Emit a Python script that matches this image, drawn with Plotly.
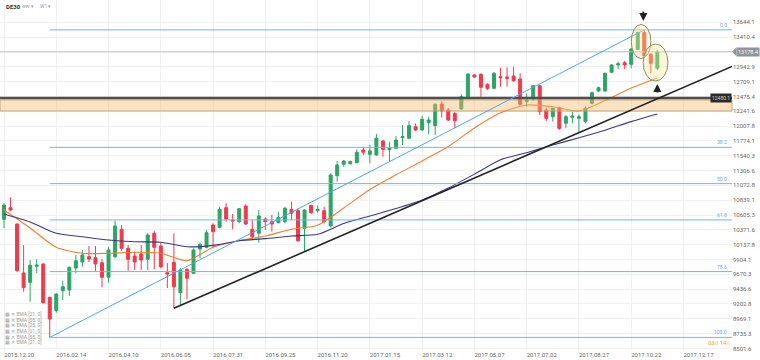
import plotly.graph_objects as go
import pandas as pd

# ---------------- data ----------------
symbol = "DE30"
first_week = "2015-12-20"          # weekly candles, one per Sunday-dated week

opens = [10537, 10720, 10463, 9691, 9544, 9796, 9833, 9307, 9096, 9411,
         9422, 9769, 9864, 9948, 9932, 9853, 9623, 9948, 10380, 10080,
         9959, 9990, 9907, 10317, 10116, 9695, 9859, 9380, 9749, 9686,
         10069, 10096, 10448, 10411, 10720, 10526, 10500, 10747, 10380, 10317,
         10542, 10500, 10484, 10500, 10695, 10673, 10395, 10758, 10673, 10673,
         10432, 11225, 11405, 11414, 11430, 11630, 11563, 11551, 11772, 11635,
         11657, 11824, 11815, 11998, 11946, 12061, 12014, 12356, 12261, 12209,
         12277, 12461, 12813, 12824, 12666, 12603, 12786, 12781, 12797, 12750,
         12392, 12435, 12644, 12261, 12155, 12297, 12051, 12146, 12130, 12077,
         12367, 12561, 12561, 12856, 12971, 13007, 12982, 13218, 13486, 13140,
         12919]
highs = [10790, 10884, 10474, 10132, 9896, 9907, 9844, 9317, 9370, 9569,
         9790, 9974, 10053, 10116, 10116, 9907, 10105, 10515, 10448, 10132,
         10027, 10132, 10317, 10358, 10168, 9848, 10317, 9765, 9765, 10080,
         10168, 10369, 10474, 10736, 10790, 10621, 10711, 10774, 10526, 10684,
         10569, 10605, 10657, 10736, 10815, 10711, 10695, 10763, 10758, 10736,
         11263, 11457, 11473, 11462, 11641, 11682, 11709, 11883, 11788, 11761,
         11851, 12025, 12088, 12051, 12171, 12155, 12367, 12403, 12288, 12225,
         12509, 12840, 12824, 12840, 12682, 12856, 12928, 12934, 12944, 12840,
         12524, 12655, 12655, 12288, 12297, 12313, 12182, 12234, 12193, 12313,
         12550, 12628, 12849, 12982, 13023, 13034, 13234, 13496, 13525, 13155,
         13207]
lows = [10395, 10673, 9711, 9396, 9238, 9686, 9213, 8675, 9064, 9265,
        9328, 9686, 9790, 9864, 9722, 9465, 9538, 9922, 10042, 9727,
        9738, 9738, 9738, 9749, 9765, 9454, 9134, 9186, 9276, 9675,
        9922, 10080, 10080, 10395, 10500, 10380, 10474, 10448, 10211, 10168,
        10369, 10342, 10474, 10474, 10526, 10184, 10027, 10621, 10641, 10474,
        10411, 11130, 11367, 11405, 11421, 11551, 11421, 11540, 11525, 11446,
        11641, 11709, 11804, 11930, 11930, 11878, 11867, 12140, 12088, 11972,
        12261, 12446, 12770, 12471, 12576, 12587, 12628, 12628, 12707, 12329,
        12313, 12403, 12182, 12088, 12077, 11946, 11972, 12051, 11894, 12051,
        12351, 12550, 12550, 12840, 12908, 12908, 12919, 13207, 13102, 12840,
        12892]
closes = [10763, 10684, 9727, 9459, 9812, 9815, 9222, 8965, 9359, 9474,
          9780, 9885, 9974, 9911, 9833, 9623, 10053, 10432, 10080, 9907,
          9864, 9896, 10290, 10096, 9790, 9675, 9474, 9738, 9607, 10053,
          10143, 10326, 10342, 10695, 10542, 10511, 10705, 10463, 10263, 10590,
          10500, 10463, 10569, 10711, 10632, 10200, 10684, 10641, 10695, 10500,
          11236, 11394, 11457, 11446, 11594, 11594, 11615, 11815, 11641, 11662,
          11788, 11840, 12014, 11946, 12114, 12103, 12351, 12245, 12103, 12092,
          12471, 12829, 12781, 12619, 12603, 12840, 12770, 12761, 12723, 12351,
          12419, 12644, 12234, 12130, 12288, 11972, 12155, 12166, 12155, 12288,
          12534, 12613, 12840, 12971, 12991, 12971, 13223, 13486, 13117, 12998,
          13178.4]

ema_step = 4   # EMA values read every 4th weekly candle
ema21 = [10684, 10400, 10096, 10001, 10001, 10017, 10001, 9885, 10096, 10200,
         10274, 10380, 10443, 10716, 11007, 11239, 11457, 11685, 11977, 12217,
         12340, 12312, 12245, 12409, 12608, 12766]
ema55 = [10621, 10495, 10318, 10263, 10211, 10184, 10176, 10105, 10127, 10200,
         10232, 10274, 10301, 10471, 10590, 10708, 10842, 11031, 11249, 11476,
         11588, 11709, 11824, 11943, 12078, 12198]

x_tick_labels = ["2015.12.20", "2016.02.14", "2016.04.10", "2016.06.05", "2016.07.31",
                 "2016.09.25", "2016.11.20", "2017.01.15", "2017.03.12", "2017.05.07",
                 "2017.07.02", "2017.08.27", "2017.10.22", "2017.12.17"]
y_tick_values = [13644.1, 13410.4, 12942.9, 12709.1, 12475.4, 12241.6, 12007.8,
                 11774.1, 11540.3, 11306.6, 11072.8, 10839.1, 10605.3, 10371.6,
                 10137.8, 9904.1, 9670.3, 9436.6, 9202.8, 8969.1, 8735.3, 8501.6]

fib_ratios = [0.0, 0.382, 0.5, 0.618, 0.786, 1.0]
fib_labels = ["0.0", "38.2", "50.0", "61.8", "78.6", "100.0"]

last_price = 13178.4
level_line = 12450
level_label = "12480.1"
zone_low, zone_high = 12245, 12420
countdown = "<span style='color:#f5a32a'>03</span>d <span style='color:#f5a32a'>14</span>h"
legend_items = ["EMA [21, 0]", "EMA [55, 0]", "EMA [25, 0]",
                "EMA [21, 0]", "EMA [55, 0]", "EMA [21, 0]"]
trend_anchor_a, trend_anchor_b = 26, 46   # candles whose lows define the black trendline

# ---------------- derived ----------------
start = pd.Timestamp(first_week)
dates = [start + pd.Timedelta(weeks=i) for i in range(len(opens))]
ema_dates = dates[::ema_step]
fmt = lambda t: t.strftime("%Y-%m-%d %H:%M:%S")
x_lo = start - pd.Timedelta(hours=103)
x_hi = start + pd.Timedelta(days=780)
tick_dates = [pd.Timestamp(s.replace(".", "-")) for s in x_tick_labels]

i_hi = max(range(len(highs)), key=lambda i: highs[i])
i_lo = min(range(len(lows)), key=lambda i: lows[i])
hi, lo = highs[i_hi], lows[i_lo]
fib_levels = [hi - r * (hi - lo) for r in fib_ratios]

GREEN = "#2ea466"
RED = "#f03a4c"
FIB = "#6cb8f3"

fig = go.Figure()
fig.add_trace(go.Candlestick(
    x=dates, open=opens, high=highs, low=lows, close=closes,
    increasing=dict(line=dict(color=GREEN, width=1), fillcolor=GREEN),
    decreasing=dict(line=dict(color=RED, width=1), fillcolor=RED),
    whiskerwidth=0, showlegend=False, hoverinfo="skip"))
fig.add_trace(go.Scatter(x=ema_dates, y=ema21, mode="lines",
                         line=dict(color="#f47d2a", width=1.1, shape="spline", smoothing=0.7),
                         showlegend=False, hoverinfo="skip"))
fig.add_trace(go.Scatter(x=ema_dates, y=ema55, mode="lines",
                         line=dict(color="#37388c", width=1.1, shape="spline", smoothing=0.7),
                         showlegend=False, hoverinfo="skip"))

shapes = []
# current price line
shapes.append(dict(type="line", xref="x", yref="y", x0=fmt(x_lo), x1=fmt(x_hi),
                   y0=last_price, y1=last_price, line=dict(color="#b9b9b9", width=1), layer="above"))
# support zone + level line
shapes.append(dict(type="rect", xref="paper", yref="y", x0=0, x1=1, y0=zone_low, y1=zone_high,
                   fillcolor="rgba(250,185,105,0.42)", line=dict(color="rgba(185,160,125,0.9)", width=1),
                   layer="above"))
shapes.append(dict(type="line", xref="paper", yref="y", x0=0, x1=1, y0=level_line, y1=level_line,
                   line=dict(color="#505050", width=2.5), layer="above"))
# fibonacci levels
for lv in fib_levels:
    shapes.append(dict(type="line", xref="x", yref="y", x0=fmt(dates[i_lo]), x1=fmt(x_hi),
                       y0=lv, y1=lv, line=dict(color=FIB, width=1), layer="above"))
shapes.append(dict(type="line", xref="x", yref="y", x0=fmt(dates[i_lo]), x1=fmt(dates[i_hi]),
                   y0=lo, y1=hi, line=dict(color="#4aa8f0", width=1), layer="above"))
# black trendline through two swing lows, extended right
la, lb = lows[trend_anchor_a], lows[trend_anchor_b]
slope = (lb - la) / ((dates[trend_anchor_b] - dates[trend_anchor_a]).days)
end_val = la + slope * (x_hi - dates[trend_anchor_a]).total_seconds() / 86400
shapes.append(dict(type="line", xref="x", yref="y", x0=fmt(dates[trend_anchor_a]), x1=fmt(x_hi),
                   y0=la, y1=end_val, line=dict(color="#222222", width=1.6), layer="above"))
# highlight ellipses
e1 = dict(x0=dates[97] - pd.Timedelta(days=6.9), x1=dates[98] + pd.Timedelta(days=7.1),
          y0=min(lows[97:99]) - 30, y1=max(highs[97:99]) + 85)
e2 = dict(x0=dates[99] - pd.Timedelta(days=8.2), x1=dates[100] + pd.Timedelta(days=11.4),
          y0=min(lows[99:101]) - 122, y1=max(highs[99:101]) + 95)
for e in (e1, e2):
    shapes.append(dict(type="circle", xref="x", yref="y", x0=fmt(e["x0"]), x1=fmt(e["x1"]),
                       y0=e["y0"], y1=e["y1"], fillcolor="rgba(247,236,150,0.38)",
                       line=dict(color="#8e8b6c", width=1), layer="above"))
# price tag notch
shapes.append(dict(type="path", xref="paper", yref="y",
                   path=f"M 1.0,{last_price} L 1.006,{last_price + 70} L 1.006,{last_price - 70} Z",
                   fillcolor="#8e949a", line=dict(width=0), layer="above"))

ann = []
small = dict(family="Roboto, sans-serif")
for lv, lab in zip(fib_levels, fib_labels):
    ann.append(dict(xref="paper", yref="y", x=0.996, y=lv, text=lab, showarrow=False,
                    xanchor="right", yanchor="bottom", font=dict(size=5, color="#5aaaf0", **small)))
ann.append(dict(xref="paper", yref="y", x=1.005, y=last_price, text="13178.4", showarrow=False,
                xanchor="left", yanchor="middle", bgcolor="#8e949a", borderpad=1,
                font=dict(size=5.5, color="#ffffff", **small)))
ann.append(dict(xref="paper", yref="y", x=1.0, y=level_line, text=level_label, showarrow=False,
                xanchor="right", yanchor="middle", bgcolor="#2b2b2b", borderpad=1,
                font=dict(size=5, color="#d0d0d0", **small)))
ann.append(dict(xref="paper", yref="y", x=1.0, y=8602, text=countdown, showarrow=False,
                xanchor="right", yanchor="middle", font=dict(size=6, color="#f8c27a", **small)))
# arrows
ann.append(dict(xref="x", yref="y", x=fmt(dates[98] - pd.Timedelta(days=1)), y=highs[98] + 140,
                ax=0, ay=-11, showarrow=True, arrowhead=2, arrowsize=0.9, arrowwidth=1.8,
                arrowcolor="#222222", text=""))
ann.append(dict(xref="x", yref="y", x=fmt(dates[100]), y=lows[100] - 220,
                ax=0, ay=10, showarrow=True, arrowhead=2, arrowsize=0.9, arrowwidth=1.8,
                arrowcolor="#222222", text=""))
# title
ann.append(dict(xref="paper", yref="paper", x=0.006, y=0.982, text=f"<b>{symbol}</b>",
                showarrow=False, xanchor="left", yanchor="middle", font=dict(size=6, color="#333", **small)))
ann.append(dict(xref="paper", yref="paper", x=0.028, y=0.982, text="ww ▾",
                showarrow=False, xanchor="left", yanchor="middle", font=dict(size=5, color="#999", **small)))
ann.append(dict(xref="paper", yref="paper", x=0.052, y=0.982, text="W1 ▾",
                showarrow=False, xanchor="left", yanchor="middle", font=dict(size=5, color="#999", **small)))
# indicator list
for i, item in enumerate(legend_items):
    ann.append(dict(xref="paper", yref="paper", x=0.004, y=0.1029 - i * 0.0162,
                    text=f"▦ ✕ {item}", showarrow=False, xanchor="left", yanchor="middle",
                    font=dict(size=5, color="#9a9a9a", **small)))

fig.update_layout(
    width=760, height=360, margin=dict(l=0, r=28, t=0, b=10),
    paper_bgcolor="white", plot_bgcolor="white",
    shapes=shapes, annotations=ann, boxgap=0.35, hovermode=False,
    xaxis=dict(type="date", range=[fmt(x_lo), fmt(x_hi)], rangeslider=dict(visible=False),
               tickvals=[fmt(t) for t in tick_dates], ticktext=x_tick_labels,
               ticklabelposition="outside right", showgrid=True, gridcolor="#f1f1f1",
               zeroline=False, showline=False, ticks="", automargin=False,
               tickfont=dict(size=6, color="#666", **small)),
    yaxis=dict(side="right", range=[8476.3, 13995.8], tickvals=y_tick_values,
               ticktext=[f"{v:.1f}" for v in y_tick_values], showgrid=True, gridcolor="#f1f1f1",
               zeroline=False, showline=False, ticks="", automargin=False,
               tickfont=dict(size=6, color="#666", **small)),
)
fig.write_html("out.html", config={"displayModeBar": False},
               post_script="document.body.style.margin='0';document.body.style.padding='0';"
                           "document.documentElement.style.overflow='hidden';")
